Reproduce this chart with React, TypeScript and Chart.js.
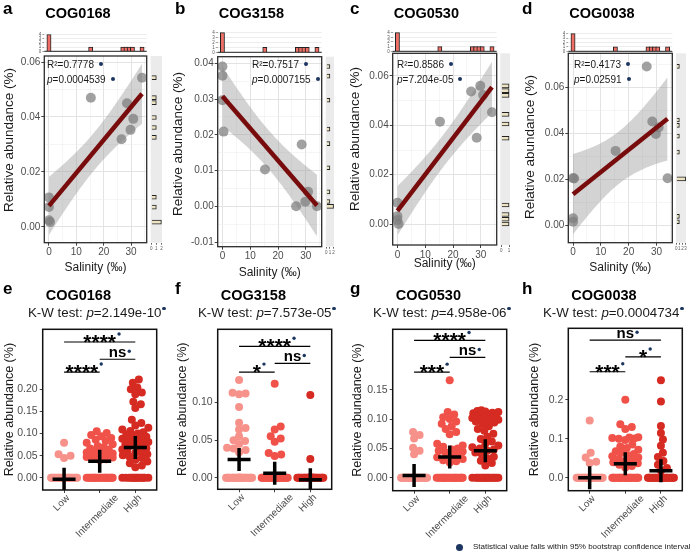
import React, { useEffect, useRef } from 'react';
import { Chart, registerables } from 'chart.js';

Chart.register(...registerables);
const FONT = "'Liberation Sans', Arial, Helvetica, sans-serif";
Chart.defaults.font.family = FONT;

// ===================== DATA =====================
// Top row: salinity vs relative abundance (10 samples)
const salinity = [0, 0, 0, 0.4, 15.3, 26.5, 28.5, 29.8, 30.8, 34];
const abundCOG0168 = [0.0107, 0.0072, 0.0024, 0.0017, 0.047, 0.0319, 0.045, 0.0353, 0.0393, 0.0543];
const abundCOG3158 = [0.0391, 0.0365, 0.0297, 0.0209, 0.0103, 0.0, 0.0173, 0.0013, 0.0041, 0.0];
const abundCOG0530 = [0.0086, 0.0032, 0.0016, 0.0, 0.0415, 0.0537, 0.035, 0.056, 0.0523, 0.0453];
const abundCOG0038 = [0.0206, 0.0032, 0.0017, 0.0204, 0.0324, 0.069, 0.0451, 0.0397, 0.0425, 0.0205];
const cogNames = ['COG0168', 'COG3158', 'COG0530', 'COG0038'];
const regR2 = ['0.7778', '0.7517', '0.8586', '0.4173'];
const regP = ['0.0004539', '0.0007155', '7.204e-05', '0.02591'];

// Bottom row: abundance per salinity group
const salinityGroups = ['Low', 'Intermediate', 'High'];
const kwP = ['2.149e-10', '7.573e-05', '4.958e-06', '0.0004734'];

const e0168Low = [0.079, 0.053, 0.050, 0.045, 0, 0, 0, 0, 0, 0, 0, 0, 0, 0, 0, 0, 0, 0, 0, 0, 0, 0, 0, 0, 0, 0, 0, 0];
const e0168Int = [0.105, 0.101, 0.097, 0.094, 0.090, 0.086, 0.083, 0.079, 0.076, 0.072, 0.069, 0.066, 0.064, 0.061, 0.059, 0.057, 0.055, 0.054, 0.052, 0.051, 0.050, 0.049, 0.047, 0.046, 0.044, 0.042, 0.040, 0, 0, 0, 0, 0, 0, 0, 0, 0, 0, 0, 0, 0, 0, 0, 0, 0, 0, 0, 0];
const e0168High = [0.222, 0.215, 0.204, 0.200, 0.193, 0.189, 0.172, 0.166, 0.158, 0.131, 0.124, 0.118, 0.113, 0.109, 0.106, 0.103, 0.100, 0.098, 0.096, 0.093, 0.091, 0.088, 0.086, 0.083, 0.081, 0.078, 0.075, 0.073, 0.070, 0.067, 0.064, 0.061, 0.058, 0.056, 0.053, 0.051, 0.048, 0.045, 0.041, 0.037, 0.033, 0.028, 0.024, 0, 0, 0, 0, 0, 0, 0, 0, 0, 0, 0, 0, 0, 0];
const e0168Means = [-0.0035, 0.0376, 0.0687];

const f3158Low = [0.130, 0.113, 0.112, 0.111, 0.094, 0.073, 0.066, 0.064, 0.055, 0.050, 0.049, 0.045, 0.040, 0.039, 0.037, 0.034, 0, 0, 0, 0, 0, 0, 0, 0, 0, 0, 0, 0, 0, 0, 0, 0, 0, 0, 0, 0, 0, 0, 0, 0, 0, 0];
const f3158Int = [0.125, 0.068, 0.064, 0.055, 0.052, 0.048, 0.033, 0.031, 0.029, 0, 0, 0, 0, 0, 0, 0, 0, 0, 0, 0, 0, 0, 0, 0, 0, 0, 0, 0, 0, 0, 0, 0, 0, 0, 0, 0, 0, 0, 0];
const f3158High = [0.110, 0.025, 0, 0, 0, 0, 0, 0, 0, 0, 0, 0, 0, 0, 0, 0, 0, 0, 0, 0, 0, 0, 0, 0, 0, 0, 0, 0, 0, 0, 0, 0];
const f3158Means = [0.0244, 0.0059, -0.0026];

const g0530Low = [0.078, 0.073, 0.067, 0.051, 0.046, 0.040, 0, 0, 0, 0, 0, 0, 0, 0, 0, 0, 0, 0, 0, 0, 0, 0, 0, 0, 0, 0, 0, 0, 0, 0, 0, 0];
const g0530Int = [0.166, 0.112, 0.108, 0.103, 0.100, 0.096, 0.092, 0.088, 0.083, 0.078, 0.074, 0.058, 0.055, 0.053, 0.050, 0.048, 0.046, 0.045, 0.043, 0.040, 0.037, 0.035, 0.032, 0.030, 0.028, 0.026, 0, 0, 0, 0, 0, 0, 0, 0, 0, 0, 0, 0, 0, 0, 0, 0, 0, 0, 0, 0];
const g0530High = [0.115, 0.114, 0.113, 0.112, 0.111, 0.110, 0.108, 0.106, 0.105, 0.104, 0.103, 0.102, 0.101, 0.100, 0.099, 0.098, 0.096, 0.094, 0.092, 0.088, 0.083, 0.080, 0.075, 0.070, 0.066, 0.062, 0.058, 0.055, 0.052, 0.050, 0.048, 0.046, 0.043, 0.040, 0.036, 0.033, 0.029, 0.025, 0.021, 0, 0, 0, 0, 0, 0, 0, 0, 0, 0, 0, 0, 0, 0, 0, 0];
const g0530Means = [0.0038, 0.0355, 0.046];

const h0038Low = [0.147, 0.064, 0.052, 0.041, 0.038, 0, 0, 0, 0, 0, 0, 0, 0, 0, 0, 0, 0, 0, 0, 0, 0, 0, 0, 0, 0, 0, 0, 0, 0, 0, 0];
const h0038Int = [0.200, 0.137, 0.130, 0.125, 0.104, 0.103, 0.102, 0.101, 0.100, 0.097, 0.085, 0.080, 0.076, 0.072, 0.068, 0.064, 0.061, 0.058, 0.055, 0.052, 0.049, 0.046, 0.043, 0.040, 0.037, 0.033, 0.030, 0.026, 0, 0, 0, 0, 0, 0, 0, 0, 0, 0, 0, 0, 0, 0, 0, 0, 0, 0, 0, 0, 0, 0];
const h0038High = [0.250, 0.196, 0.133, 0.115, 0.098, 0.082, 0.064, 0.053, 0.043, 0.033, 0.025, 0.018, 0, 0, 0, 0, 0, 0, 0, 0, 0, 0, 0, 0, 0, 0, 0, 0, 0, 0, 0, 0, 0, 0, 0, 0, 0, 0];
const h0038Means = [0.0, 0.036, 0.018];

// significance brackets: pairs of groups (1-based), heights, labels
const bracketPairs = [[1, 3], [2, 3], [1, 2]];
const eBracketY = [0.307, 0.268, 0.239];
const eBracketLab = ['****', 'ns', '****'];
const fBracketY = [0.1748, 0.152, 0.1405];
const fBracketLab = ['****', 'ns', '*'];
const gBracketY = [0.234, 0.205, 0.18];
const gBracketLab = ['****', 'ns', '***'];
const hBracketY = [0.353, 0.31, 0.272];
const hBracketLab = ['ns', '*', '***'];

// ===================== STYLE / LAYOUT =====================
const NAVY = '#1d365f';
const GROUP_COLORS = ['#f7928b', '#f0524a', '#d52b22'];
const T975_DF8 = 2.306;
const X_MIN = -1.7;
const X_MAX = 35.7;

const topPanels = [
  { letter: 'a', x0: 0, box: { l: 44.3, r: 146.7, t: 56, b: 242.7 }, hist: { t: 33, b: 52 }, strip: { l: 149, r: 162 }, yMin: -0.0058, yMax: 0.0622, yStep: 0.01, every: 2, yTitle: { x: 9, y: 140 }, xTitleY: 267, statsX: 47, values: abundCOG0168 },
  { letter: 'b', x0: 170, box: { l: 217.7, r: 321.7, t: 56.7, b: 246.7 }, hist: { t: 31.7, b: 52.3 }, strip: { l: 324, r: 334 }, yMin: -0.0113, yMax: 0.04185, yStep: 0.005, every: 2, yTitle: { x: 178, y: 144 }, xTitleY: 272, statsX: 252, values: abundCOG3158 },
  { letter: 'c', x0: 345, box: { l: 392.7, r: 496.7, t: 53.3, b: 245 }, hist: { t: 31.7, b: 51.7 }, strip: { l: 499, r: 510 }, yMin: -0.0085, yMax: 0.0692, yStep: 0.01, every: 2, yTitle: { x: 355, y: 139 }, xTitleY: 263, statsX: 397, values: abundCOG0530 },
  { letter: 'd', x0: 515, box: { l: 568.3, r: 672.3, t: 53.3, b: 242.7 }, hist: { t: 32.3, b: 51.7 }, strip: { l: 674, r: 686 }, yMin: -0.0074, yMax: 0.0747, yStep: 0.01, every: 2, yTitle: { x: 530, y: 147 }, xTitleY: 267, statsX: 574, values: abundCOG0038 },
];

const bottomPanels = [
  { letter: 'e', x0: 0, box: { l: 42.7, r: 156.7, t: 323.3, b: 490 }, yMin: -0.0276, yMax: 0.3357, yStep: 0.05, yMaxTick: 0.2, dec: 2, yTitleX: 10, groups: [e0168Low, e0168Int, e0168High], means: e0168Means, by: eBracketY, bl: eBracketLab },
  { letter: 'f', x0: 170, box: { l: 217.7, r: 331.7, t: 323.3, b: 489.3 }, yMin: -0.0154, yMax: 0.1974, yStep: 0.05, yMaxTick: 0.1, dec: 2, yTitleX: 183, groups: [f3158Low, f3158Int, f3158High], means: f3158Means, by: fBracketY, bl: fBracketLab },
  { letter: 'g', x0: 345, box: { l: 392.7, r: 506.7, t: 323.3, b: 490.7 }, yMin: -0.022, yMax: 0.253, yStep: 0.05, yMaxTick: 0.15, dec: 2, yTitleX: 358, groups: [g0530Low, g0530Int, g0530High], means: g0530Means, by: gBracketY, bl: gBracketLab },
  { letter: 'h', x0: 515, box: { l: 568.3, r: 682.3, t: 322.7, b: 490.7 }, yMin: -0.0333, yMax: 0.3836, yStep: 0.1, yMaxTick: 0.2, dec: 1, yTitleX: 535, groups: [h0038Low, h0038Int, h0038High], means: h0038Means, by: hBracketY, bl: hBracketLab },
];

// ===================== HELPERS =====================
function linFit(xs: number[], ys: number[]) {
  const n = xs.length;
  const mx = xs.reduce((s, v) => s + v, 0) / n;
  const my = ys.reduce((s, v) => s + v, 0) / n;
  let sxx = 0, sxy = 0;
  for (let i = 0; i < n; i++) { sxx += (xs[i] - mx) ** 2; sxy += (xs[i] - mx) * (ys[i] - my); }
  const b = sxy / sxx, a = my - b * mx;
  let sse = 0;
  for (let i = 0; i < n; i++) sse += (ys[i] - a - b * xs[i]) ** 2;
  return { a, b, n, mx, sxx, s: Math.sqrt(sse / (n - 2)) };
}

function histBins(vals: number[], bins: number) {
  const min = Math.min(...vals), max = Math.max(...vals);
  const w = (max - min) / (bins - 1);
  const counts = new Map<number, number>();
  for (const v of vals) { const k = Math.round((v - min) / w); counts.set(k, (counts.get(k) || 0) + 1); }
  return Array.from(counts.entries()).map(([k, c]) => ({ center: min + k * w, count: c }));
}

function swarmOffsets(yPix: number[], d: number, half: number) {
  const order = yPix.map((_, i) => i).sort((a, b) => yPix[b] - yPix[a]);
  const cands: number[] = [0];
  for (let k = 0.5; k <= half; k += 0.5) { cands.push(k); cands.push(-k); }
  const placed: number[][] = [];
  const out: number[] = yPix.map(() => 0);
  for (const i of order) {
    const y = yPix[i];
    let best = 0, bestScore = -1;
    for (const o of cands) {
      let minD = Infinity;
      for (const p of placed) { const dd = Math.hypot(p[0] - o, p[1] - y); if (dd < minD) minD = dd; }
      if (minD >= d) { best = o; break; }
      if (minD > bestScore) { bestScore = minD; best = o; }
    }
    placed.push([best, y]);
    out[i] = best;
  }
  return out;
}

const framePlugin = (color: string, width: number) => ({
  id: 'frame',
  afterDatasetsDraw(chart: any) {
    const { ctx, chartArea: a } = chart;
    ctx.save();
    ctx.strokeStyle = color; ctx.lineWidth = width;
    ctx.strokeRect(a.left, a.top, a.right - a.left, a.bottom - a.top);
    ctx.restore();
  },
});

const bgPlugin = (color: string) => ({
  id: 'bgfill',
  beforeDatasetsDraw(chart: any) {
    const { ctx, chartArea: a } = chart;
    ctx.save(); ctx.fillStyle = color;
    ctx.fillRect(a.left, a.top, a.right - a.left, a.bottom - a.top);
    ctx.restore();
  },
});

const baselinePlugin = {
  id: 'baseline',
  afterDatasetsDraw(chart: any) {
    const { ctx, chartArea: a } = chart;
    ctx.save(); ctx.strokeStyle = '#222'; ctx.lineWidth = 1;
    ctx.beginPath(); ctx.moveTo(a.left, a.bottom); ctx.lineTo(a.right, a.bottom); ctx.stroke();
    ctx.restore();
  },
};

const bracketPlugin = (heights: number[], labels: string[]) => ({
  id: 'brackets',
  afterDatasetsDraw(chart: any) {
    const { ctx, scales } = chart;
    const xs = scales.x, ys = scales.y;
    ctx.save();
    bracketPairs.forEach((pair, i) => {
      const x1 = xs.getPixelForValue(pair[0]);
      const x2 = xs.getPixelForValue(pair[1]);
      const yy = ys.getPixelForValue(heights[i]);
      ctx.strokeStyle = '#000'; ctx.lineWidth = 1.2;
      ctx.beginPath(); ctx.moveTo(x1, yy); ctx.lineTo(x2, yy); ctx.stroke();
      const lab = labels[i];
      const star = lab.indexOf('*') >= 0;
      ctx.font = `bold ${star ? 21 : 15}px ${FONT}`;
      ctx.fillStyle = '#000'; ctx.textAlign = 'center'; ctx.textBaseline = 'alphabetic';
      const mid = (x1 + x2) / 2;
      ctx.fillText(lab, mid, star ? yy + 7 : yy - 2);
      const w = ctx.measureText(lab).width;
      ctx.fillStyle = NAVY;
      ctx.beginPath(); ctx.arc(mid + w / 2 + 3, yy - 8, 1.7, 0, Math.PI * 2); ctx.fill();
    });
    ctx.restore();
  },
});

// Rotated category labels, centred under each category (ggplot-style angle = 45)
const catLabelPlugin = {
  id: 'catLabels',
  afterDraw(chart: any) {
    const { ctx, chartArea: a, scales } = chart;
    const xs = scales.x;
    ctx.save();
    ctx.font = `10px ${FONT}`;
    ctx.fillStyle = '#4d4d4d';
    ctx.textAlign = 'center';
    ctx.textBaseline = 'middle';
    salinityGroups.forEach((name, i) => {
      const px = xs.getPixelForValue(i + 1);
      const w = ctx.measureText(name).width;
      const ext = (w + 7) * Math.SQRT1_2;
      ctx.save();
      ctx.translate(px - 2.5, a.bottom + 4 + ext / 2);
      ctx.rotate(-Math.PI / 4);
      ctx.fillText(name, 0, 0);
      ctx.restore();
    });
    ctx.restore();
  },
};

const baseOpts = { responsive: false, animation: false, events: [] as any[] };
const noPlugins = { legend: { display: false }, tooltip: { enabled: false } };

// ===================== CHART BUILDERS =====================
function topMainGeom(p: any) {
  const top = Math.floor(p.box.t - 8);
  const XH = p.xTitleY + 8 - p.box.b;
  const height = Math.ceil(p.box.b + XH + 2 - top);
  const width = Math.ceil(p.box.r + 3 - p.x0);
  return { left: p.x0, top, width, height, XH, padTop: p.box.t - top, padRight: p.x0 + width - p.box.r, padBottom: height - (p.box.b - top) - XH };
}

function buildTopMain(canvas: HTMLCanvasElement, p: any) {
  const g = topMainGeom(p);
  const values: number[] = p.values;
  const fit = linFit(salinity, values);
  const xLo = Math.min(...salinity), xHi = Math.max(...salinity);
  const lower: any[] = [], upper: any[] = [];
  const steps = 60;
  for (let i = 0; i <= steps; i++) {
    const x = xLo + ((xHi - xLo) * i) / steps;
    const yh = fit.a + fit.b * x;
    const se = fit.s * Math.sqrt(1 / fit.n + (x - fit.mx) ** 2 / fit.sxx);
    lower.push({ x, y: yh - T975_DF8 * se });
    upper.push({ x, y: yh + T975_DF8 * se });
  }
  const majY = (v: number) => Math.round(v / p.yStep) % p.every === 0;
  const majX = (v: number) => Math.round(v / 5) % 2 === 0;
  return new Chart(canvas, {
    type: 'scatter',
    data: {
      datasets: [
        { type: 'line', data: lower, borderColor: 'rgba(0,0,0,0)', borderWidth: 0, pointRadius: 0, fill: false, order: 4 },
        { type: 'line', data: upper, borderColor: 'rgba(0,0,0,0)', borderWidth: 0, pointRadius: 0, fill: '-1', backgroundColor: 'rgba(150,150,150,0.42)', order: 3 },
        { type: 'scatter', data: salinity.map((x, i) => ({ x, y: values[i] })), pointRadius: 5, backgroundColor: 'rgba(125,125,125,0.72)', borderWidth: 0, order: 2 },
        { type: 'line', data: [{ x: xLo, y: fit.a + fit.b * xLo }, { x: xHi, y: fit.a + fit.b * xHi }], borderColor: '#780c0c', borderWidth: 4.5, pointRadius: 0, fill: false, order: 1 },
      ],
    } as any,
    options: {
      ...baseOpts,
      layout: { autoPadding: false, padding: { top: g.padTop, right: g.padRight, bottom: g.padBottom, left: 0 } },
      plugins: noPlugins,
      scales: {
        x: {
          type: 'linear', min: X_MIN, max: X_MAX,
          afterFit: (s: any) => { s.height = g.XH; },
          border: { display: false },
          grid: {
            color: (c: any) => (c.tick && majX(c.tick.value) ? '#e3e3e3' : '#efefef'),
            lineWidth: (c: any) => (c.tick && majX(c.tick.value) ? 1 : 0.6),
            tickLength: 3,
            tickColor: (c: any) => (c.tick && majX(c.tick.value) ? '#444' : 'rgba(0,0,0,0)'),
          },
          ticks: { stepSize: 5, includeBounds: false, autoSkip: false, maxRotation: 0, minRotation: 0, padding: 1, color: '#4d4d4d', font: { size: 10 }, callback: (v: any) => (majX(v) ? String(v) : '') },
          title: { display: true, text: 'Salinity (‰)', color: '#1a1a1a', font: { size: 12 }, padding: 0 },
        },
        y: {
          type: 'linear', min: p.yMin, max: p.yMax,
          afterFit: (s: any) => { s.width = p.box.l - p.x0; },
          border: { display: false },
          grid: {
            color: (c: any) => (c.tick && majY(c.tick.value) ? '#e3e3e3' : '#efefef'),
            lineWidth: (c: any) => (c.tick && majY(c.tick.value) ? 1 : 0.6),
            tickLength: 3,
            tickColor: (c: any) => (c.tick && majY(c.tick.value) ? '#444' : 'rgba(0,0,0,0)'),
          },
          ticks: { stepSize: p.yStep, includeBounds: false, autoSkip: false, padding: 1, color: '#4d4d4d', font: { size: 10 }, callback: (v: any) => (majY(v) ? Number(v).toFixed(2) : '') },
        },
      },
    } as any,
    plugins: [framePlugin('#2b2b2b', 1.3)],
  });
}

function topHistGeom(p: any) {
  const top = Math.floor(p.hist.t - 3);
  const height = Math.ceil(p.hist.b + 3 - top);
  const width = Math.ceil(p.box.r + 3 - p.x0);
  return { left: p.x0, top, width, height, padTop: p.hist.t - top, padBottom: height - (p.hist.b - top), padRight: p.x0 + width - p.box.r };
}

function buildTopHist(canvas: HTMLCanvasElement, p: any) {
  const g = topHistGeom(p);
  const bins = histBins(salinity, 30);
  const maxC = Math.max(...bins.map((b) => b.count));
  return new Chart(canvas, {
    type: 'bar',
    data: { datasets: [{ data: bins.map((b) => ({ x: b.center, y: b.count })), backgroundColor: '#ee6f66', borderColor: '#222', borderWidth: 1, barThickness: 4.2 }] } as any,
    options: {
      ...baseOpts,
      layout: { autoPadding: false, padding: { top: g.padTop, bottom: g.padBottom, right: g.padRight, left: 0 } },
      plugins: noPlugins,
      scales: {
        x: { type: 'linear', min: X_MIN, max: X_MAX, display: false, offset: false },
        y: {
          min: 0, max: maxC * 1.05,
          afterFit: (s: any) => { s.width = p.box.l - p.x0; },
          border: { display: false },
          grid: { color: '#e0e0e0', lineWidth: 0.6, tickLength: 2, tickColor: '#666' },
          ticks: { stepSize: 1, includeBounds: false, autoSkip: false, font: { size: 4.5 }, color: '#555', padding: 1 },
        },
      },
    } as any,
    plugins: [baselinePlugin],
  });
}

function stripGeom(p: any) {
  const top = Math.floor(p.box.t);
  const width = Math.ceil(p.strip.r - p.strip.l + 2);
  const height = Math.ceil(p.box.b - top + 14);
  return { left: p.strip.l, top, width, height, padTop: p.box.t - top, padRight: width - (p.strip.r - p.strip.l), padBottom: height - (p.box.b - top) - 14 };
}

function buildStrip(canvas: HTMLCanvasElement, p: any) {
  const g = stripGeom(p);
  const bins = histBins(p.values, 30);
  const maxC = Math.max(...bins.map((b) => b.count));
  return new Chart(canvas, {
    type: 'bar',
    data: { datasets: [{ data: bins.map((b) => ({ x: b.count, y: b.center })), backgroundColor: '#ebe3c3', borderColor: '#222', borderWidth: 1, barThickness: 4 }] } as any,
    options: {
      ...baseOpts,
      indexAxis: 'y',
      layout: { autoPadding: false, padding: { top: g.padTop, bottom: g.padBottom, right: g.padRight, left: 0 } },
      plugins: noPlugins,
      scales: {
        y: { type: 'linear', min: p.yMin, max: p.yMax, display: false, offset: false },
        x: {
          type: 'linear', min: -0.12, max: maxC + 0.12,
          afterFit: (s: any) => { s.height = 14; },
          border: { display: false },
          grid: { drawOnChartArea: false, tickLength: 2, tickColor: '#666' },
          ticks: { stepSize: 1, includeBounds: false, autoSkip: false, maxRotation: 0, minRotation: 0, font: { size: 4.5 }, color: '#555', padding: 1 },
        },
      },
    } as any,
    plugins: [bgPlugin('#ebebeb')],
  });
}

function bottomGeom(p: any) {
  const top = Math.floor(p.box.t - 2);
  const XH = 52;
  const width = Math.ceil(p.box.r + 3 - p.x0);
  const height = Math.ceil(p.box.b + XH + 2 - top);
  return { left: p.x0, top, width, height, XH, padTop: p.box.t - top, padRight: p.x0 + width - p.box.r, padBottom: height - (p.box.b - top) - XH };
}

function buildBottom(canvas: HTMLCanvasElement, p: any) {
  const g = bottomGeom(p);
  const groups: number[][] = p.groups;
  const lh = 12.5 * 1.2;
  const chart = new Chart(canvas, {
    type: 'scatter',
    data: {
      datasets: [
        { data: p.means.map((m: number, i: number) => ({ x: i + 1, y: m })), pointStyle: 'cross', pointRadius: 11.5, borderWidth: 3.5, borderColor: '#000', backgroundColor: '#000', order: 0 },
        ...groups.map((vals, gi) => ({ data: vals.map((v) => ({ x: gi + 1, y: v })), pointRadius: 4, backgroundColor: GROUP_COLORS[gi], borderWidth: 0, order: 1 })),
      ],
    } as any,
    options: {
      ...baseOpts,
      layout: { autoPadding: false, padding: { top: g.padTop, right: g.padRight, bottom: g.padBottom, left: 0 } },
      plugins: noPlugins,
      scales: {
        x: {
          type: 'linear', min: 0.4, max: 3.6,
          afterFit: (s: any) => { s.height = g.XH; },
          afterBuildTicks: (s: any) => { s.ticks = salinityGroups.map((_, i) => ({ value: i + 1 })); },
          border: { display: false },
          grid: { drawOnChartArea: false, tickLength: 3, tickColor: '#444' },
          ticks: { display: false },
        },
        y: {
          type: 'linear', min: p.yMin, max: p.yMax,
          afterFit: (s: any) => { s.width = p.box.l - p.x0; },
          afterBuildTicks: (s: any) => { s.ticks = s.ticks.filter((t: any) => t.value > -1e-9 && t.value < p.yMaxTick + 1e-9); },
          border: { display: false },
          grid: { drawOnChartArea: false, tickLength: 3, tickColor: '#444' },
          ticks: { stepSize: p.yStep, includeBounds: false, autoSkip: false, padding: 2, color: '#4d4d4d', font: { size: 10.5 }, callback: (v: any) => Number(v).toFixed(p.dec) },
          title: { display: true, text: 'Relative abundance (%)', color: '#1a1a1a', font: { size: 12.5 }, padding: { top: Math.max(0, p.yTitleX - p.x0 - lh / 2), bottom: 0 } },
        },
      },
    } as any,
    plugins: [framePlugin('#111', 1.5), bracketPlugin(p.by, p.bl), catLabelPlugin],
  });
  const xs: any = chart.scales.x, ys: any = chart.scales.y;
  const ppu = xs.getPixelForValue(2) - xs.getPixelForValue(1);
  groups.forEach((vals, gi) => {
    const offs = swarmOffsets(vals.map((v) => ys.getPixelForValue(v)), 6.5, 13);
    (chart.data.datasets[gi + 1] as any).data = vals.map((v, i) => ({ x: gi + 1 + offs[i] / ppu, y: v }));
  });
  chart.update('none');
  return chart;
}

// ===================== COMPONENTS =====================
function ChartCanvas({ geom, build }: { geom: any; build: (c: HTMLCanvasElement) => Chart }) {
  const ref = useRef<HTMLCanvasElement>(null);
  useEffect(() => {
    const chart = build(ref.current as HTMLCanvasElement);
    return () => chart.destroy();
  }, []);
  return <canvas ref={ref} width={geom.width} height={geom.height} style={{ position: 'absolute', left: geom.left, top: geom.top, width: geom.width, height: geom.height }} />;
}

function Dot({ size = 4, ml = 5, va = 2 }: { size?: number; ml?: number; va?: number }) {
  return <span style={{ display: 'inline-block', width: size, height: size, borderRadius: '50%', background: NAVY, marginLeft: ml, verticalAlign: va }} />;
}

const abs = (left: number, top: number, extra: any = {}) => ({ position: 'absolute' as const, left, top, whiteSpace: 'nowrap' as const, lineHeight: 1, ...extra });

function TopPanel({ p, i }: { p: any; i: number }) {
  return (
    <>
      <ChartCanvas geom={topHistGeom(p)} build={(c) => buildTopHist(c, p)} />
      <ChartCanvas geom={topMainGeom(p)} build={(c) => buildTopMain(c, p)} />
      <ChartCanvas geom={stripGeom(p)} build={(c) => buildStrip(c, p)} />
      <div style={abs(p.x0 + (i === 0 ? 3 : i === 3 ? 7 : 5), 0, { fontSize: 17, fontWeight: 'bold' })}>{p.letter}</div>
      <div style={abs(p.box.l + 1, 6, { fontSize: 14.5, fontWeight: 'bold' })}>{cogNames[i]}</div>
      <div style={abs(p.yTitle.x, p.yTitle.y, { fontSize: 13.5, color: '#1a1a1a', transform: 'translate(-50%, -50%) rotate(-90deg)' })}>Relative abundance (%)</div>
      <div style={abs(p.statsX, 59.5, { fontSize: 10, color: '#1a1a1a' })}>R²={regR2[i]}<Dot /></div>
      <div style={abs(p.statsX, 74.5, { fontSize: 10, color: '#1a1a1a' })}><i>p</i>={regP[i]}<Dot /></div>
    </>
  );
}

function BottomPanel({ p, i }: { p: any; i: number }) {
  return (
    <>
      <ChartCanvas geom={bottomGeom(p)} build={(c) => buildBottom(c, p)} />
      <div style={abs(p.x0 + (i === 0 ? 3 : i === 3 ? 7 : 5), 280, { fontSize: 17, fontWeight: 'bold' })}>{p.letter}</div>
      <div style={abs(p.box.l + 3, 288, { fontSize: 14.5, fontWeight: 'bold' })}>{cogNames[i]}</div>
      <div style={abs(p.x0 + 28, 306, { fontSize: 13.3, color: '#1a1a1a' })}>K-W test: <i>p</i>={kwP[i]}<Dot size={3.5} ml={1} va={7} /></div>
    </>
  );
}

export default function App() {
  return (
    <div style={{ position: 'fixed', left: 0, top: 0, width: 694, height: 558, background: '#fff', fontFamily: FONT, color: '#000', overflow: 'hidden' }}>
      {topPanels.map((p, i) => <TopPanel key={p.letter} p={p} i={i} />)}
      {bottomPanels.map((p, i) => <BottomPanel key={p.letter} p={p} i={i} />)}
      <div style={{ position: 'absolute', left: 455.5, top: 543.5, width: 7, height: 7, borderRadius: '50%', background: NAVY }} />
      <div style={abs(473, 543, { fontSize: 8, color: '#1a1a1a' })}>Statistical value falls within 95% bootstrap confidence interval</div>
    </div>
  );
}
